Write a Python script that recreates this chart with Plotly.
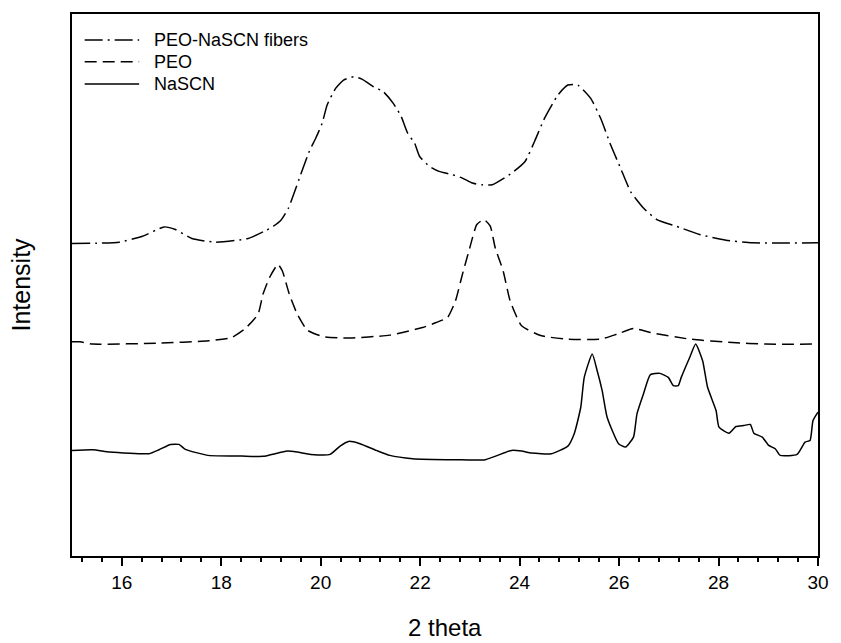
import plotly.graph_objects as go

# ---- data (2 theta, intensity in arbitrary units) ----
fiber_x = [15.0, 15.5, 15.95, 16.42, 16.85, 17.08, 17.41, 17.88, 18.54, 18.87, 19.05, 19.20, 19.35,
           19.45, 19.60, 19.77, 19.90, 20.03, 20.13, 20.30, 20.46, 20.66, 20.83, 21.06, 21.26, 21.46,
           21.62, 21.75, 21.89, 21.99, 22.19, 22.38, 22.65, 22.85, 23.05, 23.25, 23.45, 23.84, 24.11,
           24.30, 24.50, 24.77, 24.97, 25.17, 25.43, 25.63, 25.83, 26.03, 26.23, 26.49, 26.76, 27.15,
           27.62, 28.15, 28.68, 30.0]
fiber_y = [313.7, 314, 315, 321, 330.3, 327.7, 318.7, 315, 318.7, 326, 331, 337, 349,
           362, 383, 406, 419.3, 434.3, 452.7, 469.3, 477.7, 481, 478.7, 471, 466, 454.3,
           441, 424.3, 414.3, 401, 391, 386, 382.7, 379.3, 374.3, 372.5, 372.7, 384.3, 396,
           416, 439.3, 462.7, 472.7, 472.7, 459.3, 439.3, 412.7, 389.3, 366, 349.3, 337.7, 331,
           322.7, 317, 314.3, 314.3]

peo_x = [15.0, 15.16, 15.42, 16.75, 17.74, 18.21, 18.47, 18.74, 18.84, 18.97, 19.14, 19.23, 19.37,
         19.53, 19.73, 20.06, 20.53, 21.39, 22.05, 22.32, 22.55, 22.71, 22.85, 22.98, 23.14, 23.28,
         23.41, 23.51, 23.67, 23.81, 24.04, 24.44, 24.97, 25.63, 25.96, 26.29, 26.63, 27.42, 28.28,
         28.94, 30.0]
peo_y = [215, 215, 212.7, 213.7, 216, 219.3, 227.7, 242.7, 262.7, 279.3, 292.7, 286, 262.7,
         242.7, 226.7, 220, 218.7, 221.7, 229.3, 234.3, 239.3, 256, 282.7, 306, 332.7, 337.7,
         331, 309.3, 286, 256, 231, 221, 217.7, 217.7, 222.7, 228.3, 224.3, 217.7, 214.3,
         212.7, 212.7]

nascn_x = [15.0, 15.42, 15.76, 16.55, 16.75, 16.98, 17.15, 17.28, 17.74, 18.41, 18.84, 19.33, 19.53,
           19.80, 20.19, 20.39, 20.56, 20.79, 21.12, 21.39, 21.85, 22.71, 23.31, 23.84, 24.04, 24.24,
           24.64, 24.97, 25.10, 25.23, 25.30, 25.46, 25.56, 25.66, 25.76, 25.99, 26.13, 26.29, 26.36,
           26.49, 26.63, 26.82, 26.99, 27.09, 27.19, 27.25, 27.42, 27.54, 27.68, 27.78, 27.95, 28.01,
           28.21, 28.35, 28.51, 28.64, 28.71, 28.88, 29.01, 29.14, 29.24, 29.58, 29.74, 29.84, 29.90,
           30.0]
nascn_y = [106, 106.7, 104.3, 102.7, 106.7, 112, 112, 107, 101, 100.3, 100, 105.3, 104.3,
           102, 102, 110.3, 115, 112.7, 106, 101, 97.7, 96.7, 96.7, 106, 105.3, 103.3,
           102.7, 110.3, 123, 149.3, 179.3, 202.7, 186, 166, 139.3, 112.7, 109.3, 119.3, 142.7,
           162.7, 182, 183.3, 179.3, 171, 171, 179.3, 199.3, 212.7, 196, 169.3, 146, 129.3,
           123.3, 130, 131, 132, 123.3, 119.3, 111, 107.7, 101, 102, 114.3, 116, 136,
           144.3]

series_names = ["PEO-NaSCN fibers", "PEO", "NaSCN"]
tick_vals = [16, 18, 20, 22, 24, 26, 28, 30]
tick_text = ["16", "18", "20", "22", "24", "26", "28", "30"]

FONT = "Arial, Liberation Sans, sans-serif"
dashes = ["18px,5px,2px,5px", "12px,6px", "solid"]

fig = go.Figure()
for name, xs, ys, d in zip(series_names, [fiber_x, peo_x, nascn_x], [fiber_y, peo_y, nascn_y], dashes):
    fig.add_trace(go.Scatter(x=xs, y=ys, mode="lines", name=name, showlegend=False,
                             line=dict(color="black", width=1.5, dash=d, shape="spline", smoothing=0.5)))

# manual legend (long line samples, as in the reference)
rows = [0.952, 0.912, 0.871]
for name, d, yy in zip(series_names, dashes, rows):
    fig.add_shape(type="line", xref="paper", yref="paper", x0=0.017, x1=0.09, y0=yy, y1=yy,
                  line=dict(color="black", width=1.5, dash=d))
    fig.add_annotation(text=name, xref="paper", yref="paper", x=0.107, y=yy, xanchor="left",
                       yanchor="middle", showarrow=False, font=dict(family=FONT, size=18, color="black"))

# axis titles
fig.add_annotation(text="2 theta", xref="paper", yref="paper", x=0.5, y=-0.132, xanchor="center",
                   yanchor="middle", showarrow=False, font=dict(family=FONT, size=24, color="black"))
fig.add_annotation(text="Intensity", xref="paper", yref="paper", x=-0.069, y=0.5, xanchor="center",
                   yanchor="middle", textangle=-90, showarrow=False,
                   font=dict(family=FONT, size=25, color="black"))

fig.update_layout(
    width=841, height=643,
    margin=dict(l=72, r=13, t=12, b=87),
    paper_bgcolor="white", plot_bgcolor="white",
    font=dict(family=FONT, size=19, color="black"),
    showlegend=False,
)
fig.update_xaxes(range=[15, 30], showgrid=False, zeroline=False, showline=True, linecolor="black",
                 linewidth=1.5, mirror=True, ticks="outside", ticklen=8, tickwidth=1.5,
                 tickcolor="black", tickvals=tick_vals, ticktext=tick_text,
                 tickfont=dict(family=FONT, size=19, color="black"),
                 minor=dict(dtick=0.4, tick0=0, ticks="outside", ticklen=4, tickwidth=1.5,
                            tickcolor="black", showgrid=False))
fig.update_yaxes(range=[0, 544], showgrid=False, zeroline=False, showline=True, linecolor="black",
                 linewidth=1.5, mirror=True, ticks="", showticklabels=False)

fig.write_html("out.html")
